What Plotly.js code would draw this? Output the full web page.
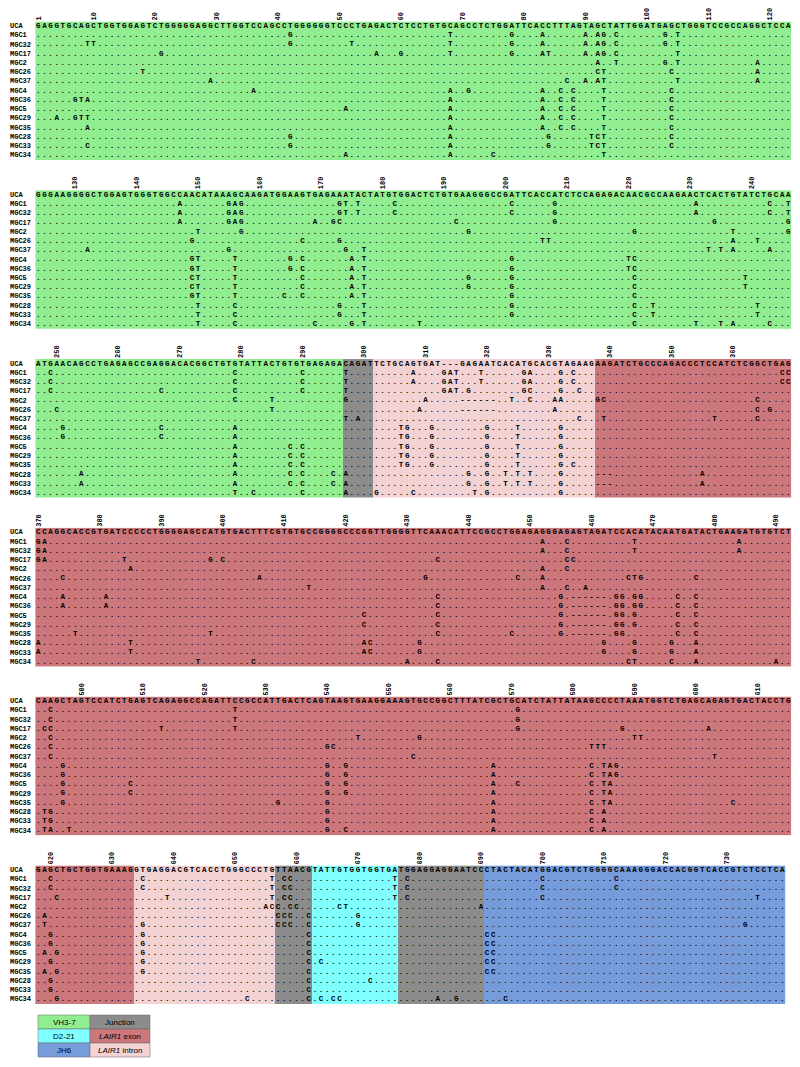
<!DOCTYPE html>
<html><head><meta charset="utf-8">
<script src="https://cdn.plot.ly/plotly-3.0.1.min.js"></script>
<style>body{margin:0;background:#fff}#chart{width:800px;height:1067px}</style>
</head><body><div id="chart"></div>
<script>
// ---------------- DATA ----------------
const ROWS = ["UCA","MGC1","MGC32","MGC17","MGC2","MGC26","MGC37","MGC4","MGC36","MGC5","MGC29","MGC35","MGC28","MGC33","MGC34"];
const BLOCK_START = [1, 124, 247, 370, 493, 618];
const UCA_SEQ = [
  "GAGGTGCAGCTGGTGGAGTCTGGGGGAGGCTTGGTCCAGCCTGGGGGGTCCCTGAGACTCTCCTGTGCAGCCTCTGGATTCACCTTTAGTAGCTATTGGATGAGCTGGGTCCGCCAGGCTCCA",
  "GGGAAGGGGCTGGAGTGGGTGGCCAACATAAAGCAAGATGGAAGTGAGAAATACTATGTGGACTCTGTGAAGGGCCGATTCACCATCTCCAGAGACAACGCCAAGAACTCACTGTATCTGCAA",
  "ATGAACAGCCTGAGAGCCGAGGACACGGCTGTGTATTACTGTGTGAGAGACAGATTCTGCAGTGAT---GAGAATCACATGCACGTAGAAGAAGATCTGCCCAGACCCTCCATCTCGGCTGAG",
  "CCAGGCACCGTGATCCCCCTGGGGAGCCATGTGACTTTCGTGTGCCGGGGCCCGGTTGGGGTTCAAACATTCCGCCTGGAGAGGGAGAGTAGATCCACATACAATGATACTGAAGATGTGTCT",
  "CAAGCTAGTCCATCTGAGTCAGAGGCCAGATTCCGCCATTGACTCAGTAAGTGAAGGAAAGTGCCGGCTTTATCGCTGCATCTATTATAAGCCCCTAAATGGTCTGAGCAGAGTGACTACCTG",
  "GAGCTGCTGGTGAAAGGTGAGGACGTCACCTGGGCCCTGTTAACGTATTGTGGTGGTGATGGAGGAGGAATCCCTACTACATGGACGTCTGGGGCAAAGGGACCACGGTCACCGTCTCCTCA"
];
// mutations: "position LETTERS" (letters placed from that position on)
const MUT_B1 = {
  MGC1:"42G 68T 78G 83A 90A 92AG 95C 103G 105T",
  MGC32:"9TT 42G 52T 68T 78G 83A 90A 92AG 95C 103G 105T",
  MGC17:"21G 56A 60G 68T 78G 83AT 90A 92AG 95C 105T",
  MGC2:"92A 95T 103G 105T 118A",
  MGC26:"18T 92CT 104C 118A",
  MGC37:"29A 87C 90A 92AT 105T 118A",
  MGC4:"36A 68A 71G 83A 86C 88C 93T 104C",
  MGC36:"7GTA 68A 83A 86C 88C 93T 104C",
  MGC5:"51A 68A 83A 86C 88C 93T 104C",
  MGC29:"4A 7GTT 68A 83A 86C 88C 93T 104C",
  MGC35:"9A 68A 83A 86C 88C 93T 104C",
  MGC28:"42G 68A 84G 91TCT 104C",
  MGC33:"9C 42G 68A 84G 91TCT 104C",
  MGC34:"51A 68A 75C 93T"
};
const MUT_B2 = {
  MGC1:"147A 155GAG 173GT 176T 182C 201C 208G 231A 243C 246T",
  MGC32:"147A 155GAG 173GT 176T 182C 201C 208G 231A 243C 246T",
  MGC17:"147A 155GAG 169A 172GC 192C 208G 234G 246G",
  MGC2:"150T 157G 194G 221G 237T 246G",
  MGC26:"149G 167C 173G 206TT 237A 241T",
  MGC37:"132A 155G 174G 177T 233T 235T 237A 243A",
  MGC4:"149GT 156T 165G 167C 175A 177T 201G 220TC",
  MGC36:"149GT 156T 165G 167C 175A 177T 201G 220TC",
  MGC5:"149CT 156T 167C 175A 177T 194G 201G 221C 239T",
  MGC29:"149CT 156T 167C 175A 177T 194G 201G 221C 239T",
  MGC35:"149GT 156T 164C 167C 175A 177T 201G 221C",
  MGC28:"150T 156C 173G 177T 201G 221C 224T 241T",
  MGC33:"150T 156C 173G 177T 201G 221C 224T 241T",
  MGC34:"150T 156C 169C 175G 177T 186T 221C 231T 235T 237A 243C"
};
const MUT_B3 = {
  MGC1:"249C 279C 290C 297T 308A 313GAT 319T 326GA 332G 334C 368CC",
  MGC32:"249C 279C 290C 297T 308A 313GAT 319T 326GA 332G 334C 368CC",
  MGC17:"249C 267C 279C 290C 297T 313GAT 317G 326GC 332G 335C",
  MGC2:"279C 285T 297G 310A 316------ 324T 327C 331AA 338GC 364C",
  MGC26:"250C 285T 309A 316------ 331A 364C 366G",
  MGC37:"297T 299A 335C 339T 357T 364C",
  MGC4:"251G 267C 279A 306TG 311G 320G 325T 332G",
  MGC36:"251G 267C 279A 306TG 311G 320G 325T 332G",
  MGC5:"279A 288C 290C 306TG 311G 320G 325T 332G",
  MGC29:"279A 288C 290C 306TG 311G 320G 325T 332G",
  MGC35:"279A 288C 290C 306TG 311G 320G 325T 332G 334C",
  MGC28:"254A 279A 288C 290C 295C 297A 317G 320G 323T 325T 327T 332G 338--- 355A",
  MGC33:"254A 279A 288C 290C 295C 297A 317G 320G 323T 325T 327T 332G 338--- 355A",
  MGC34:"279T 282C 290C 297A 302G 308C 318T 320G 332G"
};
const MUT_B4 = {
  MGC1:"370GA 452A 456C 467T 484A",
  MGC32:"370GA 452A 456C 467T 484A",
  MGC17:"370GA 384T 398G 400C 435C 456CC",
  MGC2:"385A 452A 456C",
  MGC26:"374C 406A 433G 448C 452A 466CTG 477C",
  MGC37:"414T 452A 456C 459A",
  MGC4:"374A 381A 435C 455G 457------ 464GG 467GG 474C 477C",
  MGC36:"374A 381A 435C 455G 457------ 464GG 467GG 474C 477C",
  MGC5:"423C 435C 455G 457------ 464GG 467G 474C 477C",
  MGC29:"423C 435C 455G 457------ 464GG 467G 474C 477C",
  MGC35:"376T 398T 435C 447C 455G 457------ 464GG 474C 477C",
  MGC28:"370A 385T 423AC 432G 462G 467G 473G 477A",
  MGC33:"370A 385T 423AC 432G 462G 467G 473G 477A",
  MGC34:"396T 405C 430A 435C 466CT 473C 477A 490A"
};
const MUT_B5 = {
  MGC1:"495C 525T 571G",
  MGC32:"495C 525T 571G",
  MGC17:"494CC 513T 525T 571G 588G 602A",
  MGC2:"495C 545T 555G 590TT",
  MGC26:"495C 540GC 583TTT",
  MGC37:"495C 554C 603T",
  MGC4:"497G 540G 543G 567A 583C 585TAG",
  MGC36:"497G 540G 543G 567A 583C 585TAG",
  MGC5:"497G 508C 540G 543G 567A 571C 583C 585TA",
  MGC29:"497G 508C 540G 543G 567A 583C 585TA",
  MGC35:"497G 532G 540G 567A 583C 585TA 606C",
  MGC28:"494TG 540G 567A 583C 585A",
  MGC33:"494TG 540G 567A 583C 585A",
  MGC34:"494TA 498T 540G 543C 567A 583C 585A"
};
const MUT_B6 = {
  MGC1:"620C 635C 656T 658CC 676T 678C 700C 712C",
  MGC32:"620C 635C 656T 658CC 676T 678C 700C 712C",
  MGC17:"621C 639T 656T 658CC 676T 678C 700C 735T",
  MGC2:"655ACC 659CC 667CT 690A",
  MGC26:"619A 657CCC 662C 670G",
  MGC37:"619T 635G 657CCC 662C 670G 733G",
  MGC4:"620G 635G 662C 691CC",
  MGC36:"620G 635G 662C 691CC",
  MGC5:"619A 621G 635G 662C 691CC",
  MGC29:"620G 635G 662C 664C 691CC",
  MGC35:"619A 621G 635G 662C 691CC",
  MGC28:"620G 662C 672C",
  MGC33:"620G 662C",
  MGC34:"621G 652C 662C 664C 666CC 683A 686G 694C"
};
const MUTATIONS = [MUT_B1, MUT_B2, MUT_B3, MUT_B4, MUT_B5, MUT_B6];

// background regions: [first, last, region index]
const REGION_NAMES  = ["VH3-7", "Junction", "D2-21", "<i>LAIR1</i> exon", "JH6", "<i>LAIR1</i> intron"];
const REGION_COLORS = ["#90EE90", "#8C8C8C", "#80FFFF", "#CC777B", "#779CDC", "#F2D2D2"];
const REGIONS = [[1,296,0],[297,301,1],[302,337,5],[338,633,3],[634,656,5],[657,662,1],[663,676,2],[677,690,1],[691,760,4]];

// ---------------- BUILD ----------------
const NB = 6, COLS = 123;
const W = 800, H = 1067;
const X_LEFT = 35.2, X_RIGHT = 791.4;
const TOP0 = 21.4, BLOCK_STEP = 168.8, ROW_H = 9.24;
const LABEL_X = 8;

function regionAt(p){ for (const r of REGIONS) if (p>=r[0] && p<=r[1]) return r[2]; return null; }

const traces = [];
const layout = {
  width: W, height: H, margin:{l:0,r:0,t:0,b:0},
  paper_bgcolor:"#ffffff", plot_bgcolor:"rgba(0,0,0,0)",
  showlegend:false, shapes:[], annotations:[]
};
const nColors = REGION_COLORS.length;
const cscale = REGION_COLORS.map((c,i)=>[i/(nColors-1), c]);

for (let b=0; b<NB; b++){
  const start = BLOCK_START[b];
  const seq = UCA_SEQ[b];
  const n = seq.length;
  const ax = b===0 ? "" : String(b+1);
  const xa = "x"+ax, ya = "y"+ax;
  const top = TOP0 + BLOCK_STEP*b, bottom = top + ROW_H*ROWS.length;
  layout["xaxis"+ax] = {
    domain:[X_LEFT/W, X_RIGHT/W], range:[-0.5, COLS-0.5], anchor:ya, side:"top",
    showgrid:false, zeroline:false, showline:false, ticks:"",
    tickmode:"array",
    tickvals:[], ticktext:[], tickangle:-90,
    tickfont:{family:"Liberation Mono", size:7, color:"#000", weight:"bold"}
  };
  for (let i=0;i<n;i++){ const p=start+i; if (p===1 || p%10===0){ layout["xaxis"+ax].tickvals.push(i); layout["xaxis"+ax].ticktext.push(String(p)); } }
  layout["yaxis"+ax] = {
    domain:[1-bottom/H, 1-top/H], range:[ROWS.length-0.5, -0.5], anchor:xa,
    showgrid:false, zeroline:false, showline:false, showticklabels:false, ticks:""
  };
  // background heatmap (region per column)
  const zRow = [];
  for (let i=0;i<n;i++) zRow.push(regionAt(start+i));
  traces.push({type:"heatmap", xaxis:xa, yaxis:ya, z:ROWS.map(()=>zRow),
    x:[...Array(n).keys()], y:[...Array(ROWS.length).keys()],
    colorscale:cscale, zmin:0, zmax:nColors-1, showscale:false, hoverinfo:"skip", xgap:0, ygap:0});
  // sequence letters
  const tx=[], ty=[], tt=[];
  const muts = MUTATIONS[b];
  ROWS.forEach((name, r)=>{
    let row;
    if (r===0) row = seq.split("");
    else {
      row = Array(n).fill(".");
      const s = muts[name] || "";
      s.trim().split(/\s+/).filter(Boolean).forEach(tok=>{
        const m = tok.match(/^(\d+)(.+)$/);
        const p0 = parseInt(m[1]) - start;
        m[2].split("").forEach((ch,k)=>{ if (p0+k>=0 && p0+k<n) row[p0+k]=ch; });
      });
    }
    row.forEach((ch,i)=>{ tx.push(i); ty.push(r); tt.push(ch); });
  });
  traces.push({type:"scatter", mode:"text", xaxis:xa, yaxis:ya, x:tx, y:ty, text:tt,
    textposition:"middle center", cliponaxis:false, hoverinfo:"skip",
    textfont:{family:"Liberation Mono", size:7.5, color:"#000", weight:"bold"}});
  // row labels
  ROWS.forEach((name, r)=>{
    layout.annotations.push({xref:"paper", yref:"paper", x:LABEL_X/W, y:1-(top+ROW_H*(r+0.5))/H,
      text:"<b>"+name+"</b>", showarrow:false, xanchor:"left", yanchor:"middle",
      font:{family:"Liberation Mono", size:7, color:"#000"}});
  });
}

// legend grid (2 columns x 3 rows)
const LEG_ORDER = [[0,1],[2,3],[4,5]];
const LX = [38, 90, 150], LY0 = 1015, LH = 14;
LEG_ORDER.forEach((pair, r)=>{
  pair.forEach((ri, c)=>{
    const x0=LX[c], x1=LX[c+1], y0=LY0+LH*r, y1=y0+LH;
    layout.shapes.push({type:"rect", xref:"paper", yref:"paper",
      x0:x0/W, x1:x1/W, y0:1-y1/H, y1:1-y0/H, fillcolor:REGION_COLORS[ri], line:{width:0.5,color:"#666"}});
    layout.annotations.push({xref:"paper", yref:"paper", x:(x0+x1)/2/W, y:1-(y0+LH/2)/H,
      text:REGION_NAMES[ri], showarrow:false, xanchor:"center", yanchor:"middle",
      font:{family:"Liberation Sans", size:8, color:"#000"}});
  });
});

Plotly.newPlot("chart", traces, layout, {staticPlot:true});
</script></body></html>
